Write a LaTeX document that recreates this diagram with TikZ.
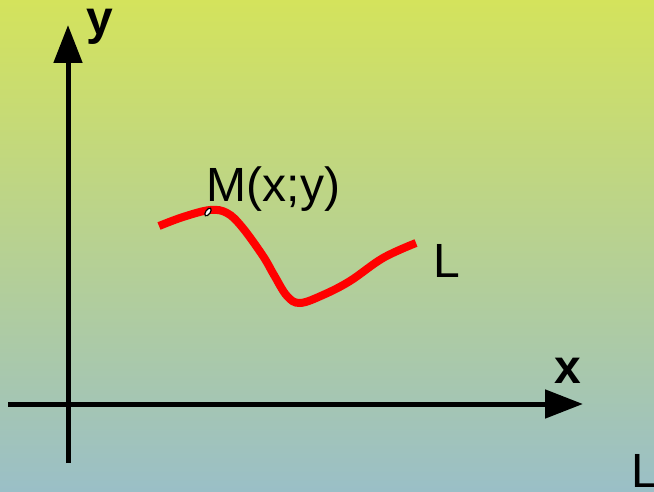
\documentclass[tikz,border=0pt]{standalone}
\usepackage{fontspec}
\setmainfont{Liberation Sans}
\usetikzlibrary{arrows.meta,shapes.geometric}
\definecolor{bgtop}{RGB}{212,227,92}
\definecolor{bgbot}{RGB}{154,191,199}
\tikzset{
  axis/.style={line width=5pt, -{Triangle[length=38pt,width=28pt]}},
  curve/.style={red, line width=8pt},
  axlabel/.style={inner sep=0pt, font=\fontsize{48}{48}\selectfont\bfseries},
  txt/.style={inner sep=0pt, font=\fontsize{48}{48}\selectfont, anchor=base west},
  marker/.style={draw=black, fill=white, line width=1.2pt, ellipse, inner sep=0pt, minimum width=9pt, minimum height=4.5pt, rotate=55}
}
\begin{document}
\begin{tikzpicture}[x=1pt,y=-1pt]
\shade[top color=bgtop, bottom color=bgbot] (0,0) rectangle (654,492);
\useasboundingbox (0,0) rectangle (654,492);
\coordinate (yb) at (68,463);
\coordinate (yt) at (68,25);
\coordinate (xl) at (8,404);
\coordinate (xr) at (583,404);
\draw[axis] (yb) -- (yt);
\draw[axis] (xl) -- (xr);
\node[axlabel, anchor=base] (ylab) at (100,35) {y};
\node[axlabel, anchor=base] (xlab) at (568,383) {x};
\draw[curve] plot[smooth, tension=0.6] coordinates {(159,226) (183,217) (210,210) (227,213) (242,227) (263,256) (274,275) (287,296) (300,303) (323,295) (350,281) (383,258) (416,243)};
\node[marker] (M) at (208,212) {};
\node[txt] (Mlab) at (206.5,202) {M(x;y)};
\node[txt] (L1) at (433.5,277) {L};
\node[txt] (L2) at (631.5,487) {L};
\end{tikzpicture}
\end{document}
